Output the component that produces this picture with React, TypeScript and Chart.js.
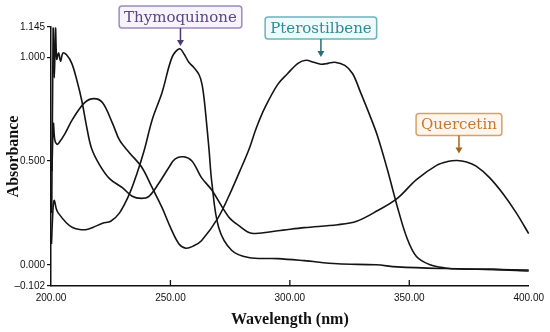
import React, { useEffect, useRef } from 'react';
import { Chart, registerables } from 'chart.js';

Chart.register(...registerables);

// ---- data (wavelength nm / absorbance) ----
const thymoWl = [200.2, 200.9, 201.4, 202.2, 203.0, 206.6, 209, 212, 215, 217.5, 221.6, 225, 228.7, 232.8, 236, 239, 242.4, 246.5, 250.7, 253.8, 255.7, 257.7, 259.8, 262, 263.2, 264.1, 265.4, 266.2, 267.3, 270.2, 275.6, 282.7, 295, 306, 320, 336, 345, 365, 385, 400];
const thymoAbs = [0.10, 0.28, 0.31, 0.27, 0.25, 0.20, 0.18, 0.17, 0.17, 0.18, 0.20, 0.21, 0.25, 0.34, 0.44, 0.55, 0.70, 0.83, 1.00, 1.04, 1.015, 0.975, 0.95, 0.915, 0.87, 0.80, 0.65, 0.55, 0.40, 0.18, 0.07, 0.035, 0.03, 0.02, 0.005, 0.0, -0.01, -0.018, -0.022, -0.025];

const ptero_Wl = [200.4, 201.0, 201.6, 202.5, 203.5, 205.8, 209, 214, 218, 221.6, 225.8, 228.7, 232.8, 238, 242, 246.5, 250, 253.6, 256.5, 259.5, 263, 270, 275.6, 279, 282.7, 286, 289.7, 295, 299, 303.4, 306.8, 310, 313, 316, 318.8, 323, 326.3, 329.6, 333.8, 336.7, 340.8, 345, 349, 353, 358.7, 365, 371, 385, 400];
const pteroAbs = [0.45, 0.68, 0.60, 0.58, 0.59, 0.63, 0.70, 0.78, 0.80, 0.78, 0.68, 0.60, 0.54, 0.47, 0.38, 0.275, 0.18, 0.10, 0.08, 0.09, 0.116, 0.227, 0.36, 0.45, 0.55, 0.66, 0.76, 0.87, 0.92, 0.97, 0.985, 0.975, 0.966, 0.97, 0.975, 0.96, 0.92, 0.83, 0.71, 0.62, 0.46, 0.28, 0.13, 0.04, 0.0, -0.015, -0.02, -0.022, -0.03];

const querWl = [200.3, 200.9, 201.4, 201.9, 202.4, 203.2, 204.0, 205.0, 206.6, 208.7, 210.8, 212.9, 215, 217, 220.4, 224.5, 230, 234, 237.8, 241, 245, 249.4, 252, 255.5, 259, 263, 267.3, 274.4, 278.5, 284, 295, 306, 320, 328, 336.6, 345, 353, 361.6, 366, 370, 374, 378, 383.6, 389.4, 394.8, 400];
const querAbs = [0.25, 1.14, 0.90, 1.14, 0.99, 1.02, 0.98, 1.02, 1.01, 0.97, 0.89, 0.79, 0.66, 0.56, 0.48, 0.415, 0.37, 0.33, 0.32, 0.33, 0.39, 0.47, 0.51, 0.52, 0.50, 0.42, 0.36, 0.23, 0.19, 0.152, 0.164, 0.179, 0.193, 0.21, 0.26, 0.32, 0.41, 0.48, 0.497, 0.502, 0.495, 0.475, 0.42, 0.34, 0.25, 0.15];

const xTickValues = [200, 250, 300, 350, 400];
const xInnerTickValues = [250, 300, 350];
const yTickValues = [-0.102, 0, 0.5, 1.0, 1.145];

const annLabels = ['Thymoquinone', 'Pterostilbene', 'Quercetin'];
const annX = [254.2, 313, 370.8];
const annY = [1.053, 1.0, 0.536];

const annStyles = [
  { text: '#5b4585', border: '#9b8bbd', fill: '#f6f3fb', arrow: '#4a3a70' },
  { text: '#2b8c99', border: '#68b4bf', fill: '#f1f9fa', arrow: '#2a6f78' },
  { text: '#c5772f', border: '#d9a066', fill: '#fdf6ee', arrow: '#a8621f' },
];

const toPts = (xs: number[], ys: number[]) => xs.map((x, i) => ({ x, y: ys[i] }));

const overlay = {
  id: 'overlay',
  afterDraw(chart: any) {
    const { ctx } = chart;
    const x = chart.scales.x;
    const y = chart.scales.y;
    ctx.save();
    ctx.strokeStyle = '#111';
    ctx.lineWidth = 1.3;
    for (const v of xInnerTickValues) {
      const px = x.getPixelForValue(v);
      ctx.beginPath();
      ctx.moveTo(px, y.bottom);
      ctx.lineTo(px, y.bottom - 6);
      ctx.stroke();
    }
    ctx.font = '15px "DejaVu Serif"';
    ctx.textAlign = 'center';
    ctx.textBaseline = 'middle';
    annLabels.forEach((label, i) => {
      const st = annStyles[i];
      const tx = x.getPixelForValue(annX[i]);
      const ty = y.getPixelForValue(annY[i]);
      const w = ctx.measureText(label).width + 10;
      const h = 22;
      const boxBottom = ty - 18;
      const boxTop = boxBottom - h;
      ctx.beginPath();
      ctx.roundRect(tx - w / 2, boxTop, w, h, 3);
      ctx.fillStyle = st.fill;
      ctx.fill();
      ctx.lineWidth = 1.5;
      ctx.strokeStyle = st.border;
      ctx.stroke();
      ctx.fillStyle = st.text;
      ctx.fillText(label, tx, boxTop + h / 2 + 1);
      ctx.strokeStyle = st.arrow;
      ctx.lineWidth = 1.5;
      ctx.beginPath();
      ctx.moveTo(tx, boxBottom);
      ctx.lineTo(tx, ty - 4);
      ctx.stroke();
      ctx.fillStyle = st.arrow;
      ctx.beginPath();
      ctx.moveTo(tx - 3.5, ty - 6);
      ctx.lineTo(tx + 3.5, ty - 6);
      ctx.lineTo(tx, ty);
      ctx.closePath();
      ctx.fill();
    });
    ctx.restore();
  },
};

export default function App() {
  const ref = useRef<HTMLCanvasElement>(null);
  useEffect(() => {
    if (!ref.current) return;
    const lineDs = (data: any[]) => ({
      data,
      borderColor: '#141414',
      borderWidth: 1.6,
      pointRadius: 0,
      tension: 0.35,
      clip: 3 as any,
    });
    const chart = new Chart(ref.current, {
      type: 'line',
      data: {
        datasets: [
          lineDs(toPts(thymoWl, thymoAbs)),
          lineDs(toPts(ptero_Wl, pteroAbs)),
          lineDs(toPts(querWl, querAbs)),
        ],
      },
      options: {
        animation: false,
        responsive: false,
        maintainAspectRatio: false,
        layout: { padding: { top: 27, right: 18, left: 0, bottom: 0 } },
        plugins: { legend: { display: false }, tooltip: { enabled: false } },
        scales: {
          x: {
            type: 'linear',
            min: 200,
            max: 400,
            afterBuildTicks: (s: any) => {
              s.ticks = xTickValues.map((v) => ({ value: v }));
            },
            afterFit: (s: any) => {
              s.height = 46;
            },
            ticks: {
              callback: (v: any) => Number(v).toFixed(2),
              font: { family: 'Arial, "Liberation Sans"', size: 10 },
              color: '#111',
              padding: 6,
              maxRotation: 0,
              autoSkip: false,
            },
            grid: { display: false, drawTicks: false },
            border: { display: true, color: '#111', width: 1.5 },
            title: {
              display: true,
              text: 'Wavelength (nm)',
              font: { family: '"Liberation Serif", serif', size: 16, weight: 'bold' },
              color: '#111',
              padding: { top: 0, bottom: 3 },
            },
          },
          y: {
            type: 'linear',
            min: -0.102,
            max: 1.145,
            afterBuildTicks: (s: any) => {
              s.ticks = yTickValues.map((v) => ({ value: v }));
            },
            afterFit: (s: any) => {
              s.width = 51;
            },
            ticks: {
              callback: (v: any) => {
                const n = Number(v);
                return n < 0 ? '\u2013' + Math.abs(n).toFixed(3) : n.toFixed(3);
              },
              font: { family: 'Arial, "Liberation Sans"', size: 10 },
              color: '#111',
              padding: 2,
              autoSkip: false,
            },
            grid: { display: true, drawOnChartArea: false, drawTicks: true, tickLength: 4, color: '#111', lineWidth: 1.2 },
            border: { display: true, color: '#111', width: 1.5 },
            title: {
              display: true,
              text: 'Absorbance',
              font: { family: '"Liberation Serif", serif', size: 16, weight: 'bold' },
              color: '#111',
              padding: { top: 4, bottom: 0 },
            },
          },
        },
      },
      plugins: [overlay],
    });
    return () => chart.destroy();
  }, []);
  return (
    <div style={{ position: 'fixed', left: 0, top: 0, width: 550, height: 332, background: '#fff' }}>
      <canvas ref={ref} width={550} height={332} style={{ display: 'block' }} />
    </div>
  );
}
